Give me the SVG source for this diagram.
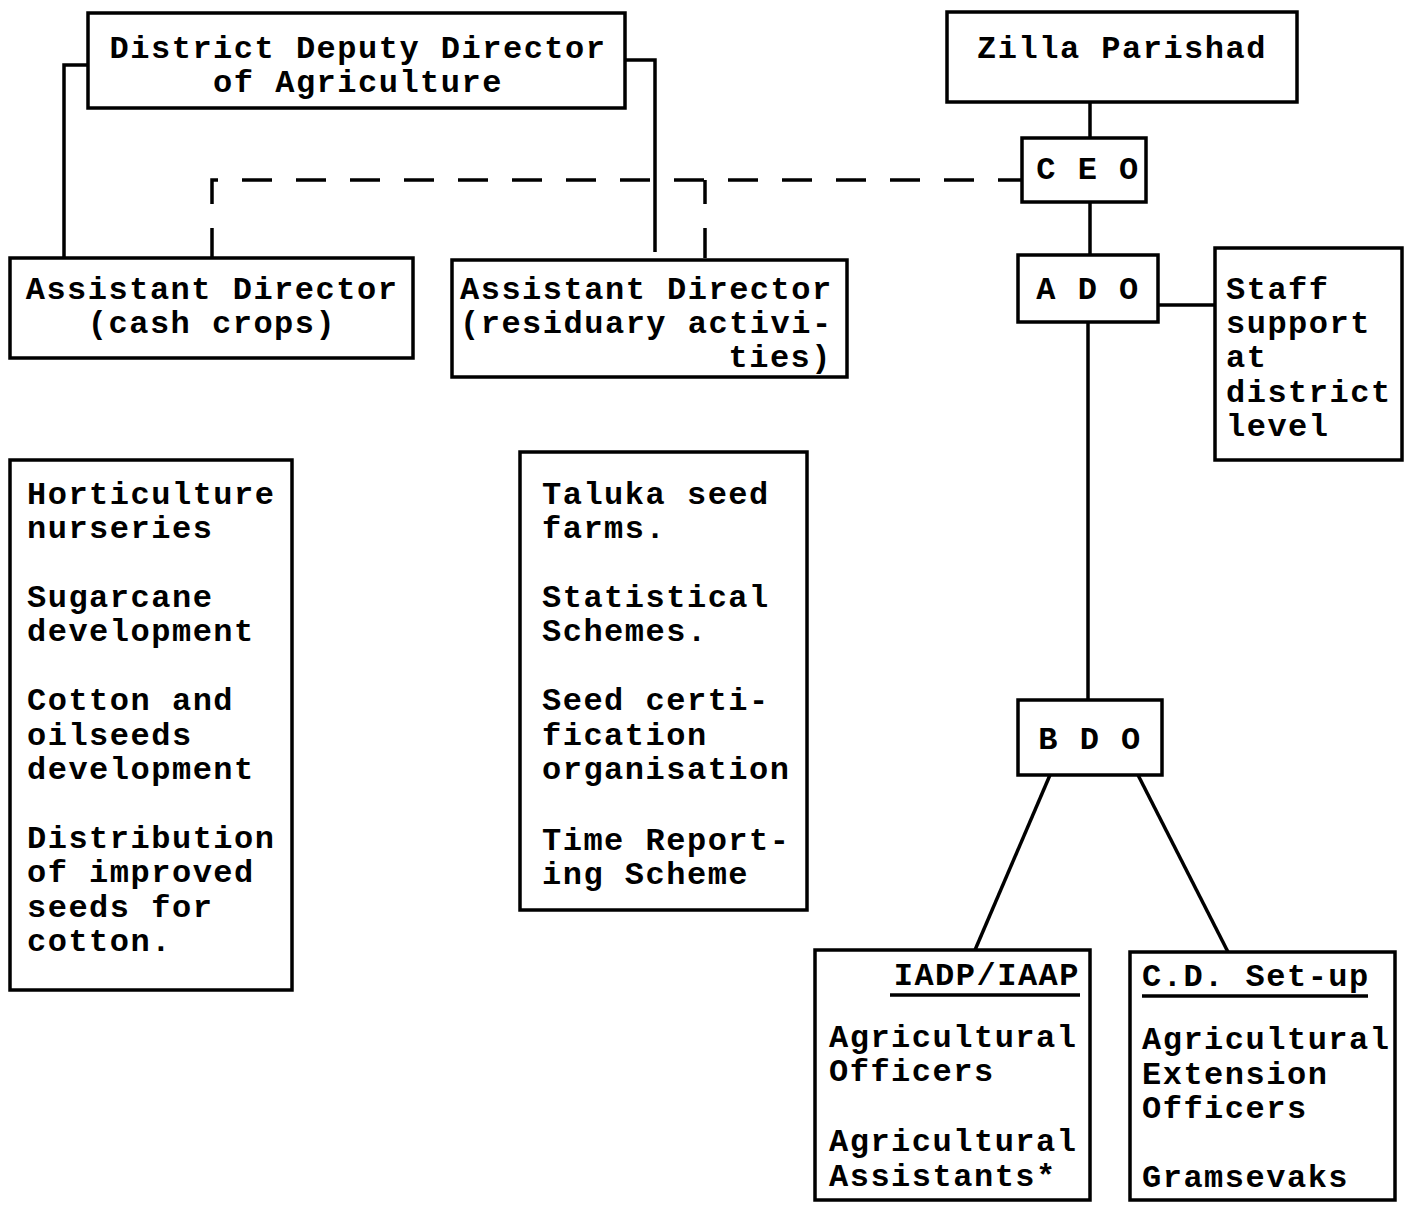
<svg xmlns="http://www.w3.org/2000/svg" width="1407" height="1206" viewBox="0 0 1407 1206">
<style>
.box{fill:none;stroke:#000;stroke-width:3.5}
.ln{fill:none;stroke:#000;stroke-width:3.5}
.dash{fill:none;stroke:#000;stroke-width:3.5;stroke-dasharray:30 24}
text{font-family:"Liberation Mono","Courier New",monospace;font-size:32px;font-weight:bold;letter-spacing:1.5px;fill:#000}
.c{text-anchor:middle}
.r{text-anchor:end}
</style>
<rect width="1407" height="1206" fill="#fff"/>
<g id="connectors">
<polyline class="ln" points="88,65 64,65 64,258"/>
<polyline class="ln" points="625,60 655,60 655,252"/>
<polyline class="dash" points="212,258 212,180 1022,180"/>
<line class="dash" x1="705" y1="258" x2="705" y2="180"/>
<line class="ln" x1="1090" y1="102" x2="1090" y2="138"/>
<line class="ln" x1="1090" y1="202" x2="1090" y2="255"/>
<line class="ln" x1="1158" y1="305" x2="1215" y2="305"/>
<line class="ln" x1="1088" y1="322" x2="1088" y2="700"/>
<line class="ln" x1="1050" y1="775" x2="975" y2="950"/>
<line class="ln" x1="1138" y1="775" x2="1228" y2="952"/>
</g>
<g id="ddda">
<rect class="box" x="88" y="13" width="537" height="95"/>
<text class="c" x="358" y="58">District Deputy Director</text>
<text class="c" x="358" y="92">of Agriculture</text>
</g>
<g id="zp">
<rect class="box" x="947" y="12" width="350" height="90"/>
<text class="c" x="1122" y="58">Zilla Parishad</text>
</g>
<g id="ceo">
<rect class="box" x="1022" y="138" width="124" height="64"/>
<text class="c" x="1088" y="179">C E O</text>
</g>
<g id="ado">
<rect class="box" x="1018" y="255" width="140" height="67"/>
<text class="c" x="1088" y="299">A D O</text>
</g>
<g id="staff">
<rect class="box" x="1215" y="248" width="187" height="212"/>
<text x="1226" y="299">Staff</text>
<text x="1226" y="333">support</text>
<text x="1226" y="367">at</text>
<text x="1226" y="402">district</text>
<text x="1226" y="436">level</text>
</g>
<g id="adcash">
<rect class="box" x="10" y="258" width="403" height="100"/>
<text class="c" x="212" y="299">Assistant Director</text>
<text class="c" x="212" y="333">(cash crops)</text>
</g>
<g id="adres">
<rect class="box" x="452" y="260" width="395" height="117"/>
<text x="460" y="299">Assistant Director</text>
<text x="460" y="333">(residuary activi-</text>
<text class="r" x="832" y="367">ties)</text>
</g>
<g id="horti">
<rect class="box" x="10" y="460" width="282" height="530"/>
<text x="27" y="504">Horticulture</text>
<text x="27" y="538">nurseries</text>
<text x="27" y="607">Sugarcane</text>
<text x="27" y="641">development</text>
<text x="27" y="710">Cotton and</text>
<text x="27" y="745">oilseeds</text>
<text x="27" y="779">development</text>
<text x="27" y="848">Distribution</text>
<text x="27" y="882">of improved</text>
<text x="27" y="917">seeds for</text>
<text x="27" y="951">cotton.</text>
</g>
<g id="taluka">
<rect class="box" x="520" y="452" width="287" height="458"/>
<text x="542" y="504">Taluka seed</text>
<text x="542" y="538">farms.</text>
<text x="542" y="607">Statistical</text>
<text x="542" y="641">Schemes.</text>
<text x="542" y="710">Seed certi-</text>
<text x="542" y="745">fication</text>
<text x="542" y="779">organisation</text>
<text x="542" y="850">Time Report-</text>
<text x="542" y="884">ing Scheme</text>
</g>
<g id="bdo">
<rect class="box" x="1018" y="700" width="144" height="75"/>
<text class="c" x="1090" y="749">B D O</text>
</g>
<g id="iadp">
<rect class="box" x="815" y="950" width="275" height="250"/>
<text class="r" x="1080" y="985">IADP/IAAP</text>
<line class="ln" x1="890" y1="995" x2="1080" y2="995"/>
<text x="829" y="1047">Agricultural</text>
<text x="829" y="1081">Officers</text>
<text x="829" y="1151">Agricultural</text>
<text x="829" y="1186">Assistants*</text>
</g>
<g id="cd">
<rect class="box" x="1130" y="952" width="265" height="248"/>
<text x="1142" y="986">C.D. Set-up</text>
<line class="ln" x1="1142" y1="996" x2="1368" y2="996"/>
<text x="1142" y="1049">Agricultural</text>
<text x="1142" y="1084">Extension</text>
<text x="1142" y="1118">Officers</text>
<text x="1142" y="1187">Gramsevaks</text>
</g>
</svg>
